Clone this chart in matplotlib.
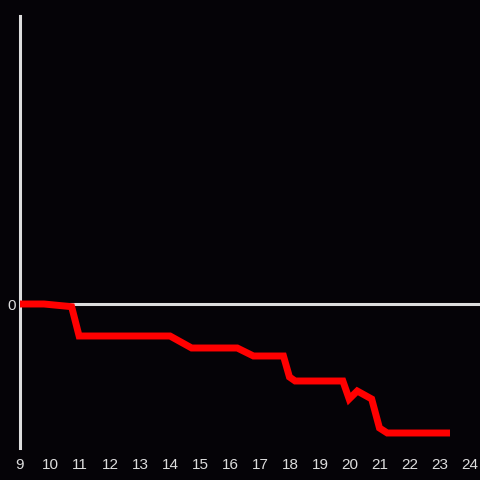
import matplotlib
matplotlib.use("Agg")
import matplotlib.pyplot as plt

# hours and cumulative change
hours = [9.0, 9.8, 10.72, 10.97, 14.0, 14.72, 16.24, 16.78, 17.78, 17.98, 18.17,
         19.76, 19.97, 20.24, 20.72, 20.98, 21.24, 23.33]
values = [0.0, 0.0, -0.27, -3.2, -3.2, -4.4, -4.4, -5.2, -5.2, -7.3, -7.7,
          -7.7, -9.5, -8.7, -9.5, -12.4, -12.9, -12.9]
xticks = list(range(9, 25))

bg = "#050307"
fg = "#dddddd"

plt.rcParams['font.family'] = ['Liberation Sans', 'DejaVu Sans']

fig = plt.figure(figsize=(4.8, 4.8), dpi=100, facecolor=bg)
ax = fig.add_axes([20 / 480, 32 / 480, 460 / 480, 432 / 480])
ax.set_facecolor(bg)

ax.axhline(0, color=fg, lw=2.2, zorder=1)
ax.plot(hours, values, color="#ff0000", lw=5, solid_joinstyle="miter",
        solid_capstyle="butt", zorder=3)

ax.set_xlim(9, 24.33)
ax.set_ylim(-14.4, 28.8)

for s in ["top", "right", "bottom"]:
    ax.spines[s].set_visible(False)
ax.spines["left"].set_color(fg)
ax.spines["left"].set_linewidth(2.2)

ax.set_xticks(xticks)
ax.set_xticklabels([str(t) for t in xticks])
ax.set_yticks([0])
ax.set_yticklabels(["0"])
ax.tick_params(length=0, colors=fg, labelsize=11)
ax.tick_params(axis="x", pad=7)
ax.tick_params(axis="y", pad=3)

fig.savefig("out.png", dpi=100, facecolor=bg)
